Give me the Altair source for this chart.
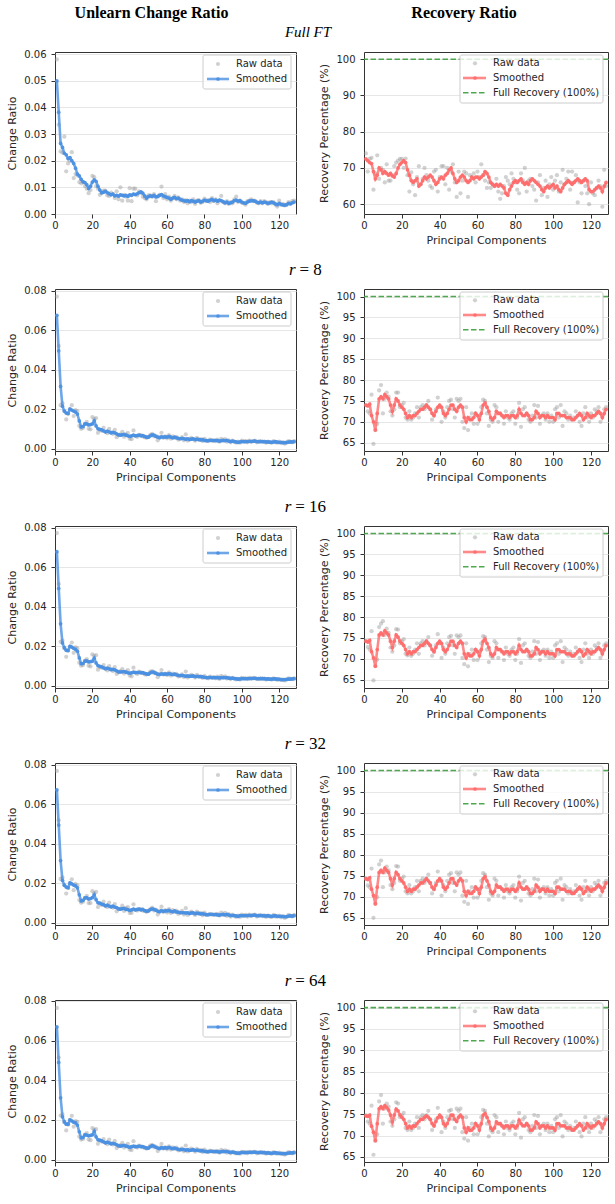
import altair as alt
import pandas as pd

# Principal component index (1..128)
PC = list(range(1, 129))

# ---------------- Full fine-tuning ----------------
FULL_CHANGE_RAW = [
    0.0580, 0.0335, 0.0235, 0.0230, 0.0290, 0.0160, 0.0190, 0.0200, 0.0232, 0.0135,
    0.0150, 0.0145, 0.0120, 0.0115, 0.0120, 0.0105, 0.0095, 0.0078, 0.0090, 0.0143,
    0.0138, 0.0105, 0.0095, 0.0072, 0.0078, 0.0088, 0.0088, 0.0070, 0.0068, 0.0080,
    0.0075, 0.0060, 0.0085, 0.0055, 0.0100, 0.0050, 0.0072, 0.0065, 0.0050, 0.0097,
    0.0048, 0.0095, 0.0095, 0.0070, 0.0085, 0.0080, 0.0065, 0.0060, 0.0055, 0.0070,
    0.0070, 0.0065, 0.0075, 0.0048, 0.0065, 0.0072, 0.0103, 0.0060, 0.0075, 0.0055,
    0.0065, 0.0050, 0.0058, 0.0068, 0.0055, 0.0062, 0.0050, 0.0055, 0.0045, 0.0052,
    0.0040, 0.0050, 0.0045, 0.0055, 0.0038, 0.0050, 0.0052, 0.0042, 0.0045, 0.0058,
    0.0048, 0.0052, 0.0045, 0.0060, 0.0048, 0.0055, 0.0040, 0.0050, 0.0068, 0.0045,
    0.0040, 0.0048, 0.0038, 0.0045, 0.0040, 0.0055, 0.0065, 0.0045, 0.0050, 0.0042,
    0.0040, 0.0035, 0.0048, 0.0050, 0.0055, 0.0048, 0.0050, 0.0042, 0.0040, 0.0048,
    0.0040, 0.0048, 0.0045, 0.0038, 0.0045, 0.0040, 0.0045, 0.0035, 0.0028, 0.0050,
    0.0035, 0.0038, 0.0032, 0.0035, 0.0045, 0.0040, 0.0048, 0.0050,
]
FULL_CHANGE_SMOOTH = [
    0.0500, 0.0382, 0.0265, 0.0250, 0.0228, 0.0222, 0.0208, 0.0212, 0.0200, 0.0190,
    0.0172, 0.0150, 0.0143, 0.0130, 0.0121, 0.0118, 0.0110, 0.0096, 0.0104, 0.0120,
    0.0128, 0.0122, 0.0104, 0.0090, 0.0080, 0.0082, 0.0085, 0.0080, 0.0076, 0.0072,
    0.0075, 0.0068, 0.0070, 0.0067, 0.0072, 0.0070, 0.0068, 0.0070, 0.0066, 0.0072,
    0.0070, 0.0075, 0.0073, 0.0076, 0.0080, 0.0083, 0.0078, 0.0068, 0.0060, 0.0065,
    0.0068, 0.0066, 0.0070, 0.0064, 0.0066, 0.0070, 0.0073, 0.0068, 0.0065, 0.0062,
    0.0060, 0.0055, 0.0060, 0.0062, 0.0058, 0.0060, 0.0055, 0.0052, 0.0050, 0.0048,
    0.0050, 0.0046, 0.0050, 0.0048, 0.0045, 0.0048, 0.0050, 0.0045, 0.0048, 0.0052,
    0.0050, 0.0048, 0.0052, 0.0055, 0.0050, 0.0052, 0.0048, 0.0052, 0.0050, 0.0046,
    0.0042, 0.0045, 0.0040, 0.0042, 0.0045, 0.0050, 0.0052, 0.0048, 0.0050, 0.0045,
    0.0042, 0.0040, 0.0045, 0.0048, 0.0050, 0.0050, 0.0048, 0.0045, 0.0042, 0.0045,
    0.0042, 0.0045, 0.0043, 0.0040, 0.0042, 0.0045, 0.0042, 0.0038, 0.0035, 0.0040,
    0.0036, 0.0034, 0.0033, 0.0035, 0.0040, 0.0038, 0.0042, 0.0045,
]
FULL_RECOV_RAW = [
    74.0, 69.0, 72.5, 72.8, 64.0, 68.5, 73.5, 67.0, 70.0, 69.5,
    66.0, 71.0, 66.5, 66.5, 68.0, 70.5, 71.5, 72.0, 72.5, 72.5,
    70.0, 72.6, 68.0, 63.5, 68.8, 65.5, 62.5, 67.5, 70.5, 65.5,
    67.0, 70.0, 68.0, 66.5, 65.0, 64.5, 69.0, 69.5, 63.5, 67.5,
    70.5, 70.5, 65.5, 70.0, 64.0, 69.0, 71.0, 66.0, 62.0, 69.0,
    63.0, 66.5, 69.0, 68.5, 62.0, 68.0, 67.5, 68.5, 66.0, 69.0,
    67.5, 71.0, 68.0, 66.5, 64.5, 66.0, 64.5, 65.5, 65.0, 67.0,
    63.5, 61.5, 63.0, 65.0, 67.5, 66.5, 65.5, 68.5, 67.0, 66.0,
    64.0, 63.0, 68.5, 66.5, 70.0, 63.5, 66.5, 67.0, 65.0, 64.0,
    61.0, 66.0, 68.0, 62.5, 64.5, 66.5, 62.0, 65.5, 67.5, 64.0,
    66.5, 68.0, 63.5, 66.0, 69.5, 65.5, 67.0, 69.0, 64.0, 69.0,
    66.0, 68.0, 60.5, 66.0, 63.0, 66.5, 65.0, 63.0, 60.0, 66.0,
    63.0, 62.5, 64.5, 66.5, 65.0, 59.3, 69.5, 65.0,
]
FULL_RECOV_SMOOTH = [
    72.5, 72.0, 71.5, 71.2, 69.0, 67.0, 68.0, 70.0, 69.5, 68.5,
    69.0, 68.5, 68.0, 68.5, 67.8, 67.5, 68.5, 70.0, 71.0, 71.5,
    72.0, 71.5, 69.5, 68.0, 66.5, 66.0, 66.5, 67.0, 65.0, 65.5,
    66.5, 67.5, 67.0, 67.5, 68.0, 67.5, 66.5, 65.5, 66.0, 67.0,
    67.5, 67.0, 68.0, 68.5, 69.5, 70.0, 68.5, 67.0, 66.0, 66.5,
    67.5, 68.0, 67.5, 66.5, 66.0, 66.5, 67.5, 67.0, 67.5, 67.5,
    67.0, 67.5, 68.0, 69.0, 68.5, 67.5, 66.0, 65.5, 65.0, 65.5,
    65.0, 65.5, 65.0, 64.5, 63.0, 62.5, 64.0, 65.0, 66.0, 66.5,
    66.0, 66.5, 67.0, 66.0, 65.5, 66.0, 65.5, 66.5, 67.0, 66.5,
    66.0, 65.5, 65.0, 64.0, 63.5, 64.5, 65.0, 64.5, 65.0, 65.5,
    64.5, 65.0, 64.0, 63.5, 64.5, 65.5, 66.0, 66.5, 66.0, 65.5,
    66.0, 66.5, 67.0, 66.5, 66.0, 66.5, 67.0, 66.5, 64.0, 63.5,
    63.5, 64.0, 64.5, 65.0, 64.5, 63.5, 65.0, 66.0,
]

# ---------------- LoRA, r = 8 ----------------
R8_CHANGE_RAW = [
    0.0770, 0.0520, 0.0220, 0.0230, 0.0190, 0.0148, 0.0175, 0.0200, 0.0220, 0.0165,
    0.0195, 0.0190, 0.0115, 0.0100, 0.0105, 0.0125, 0.0135, 0.0100, 0.0098, 0.0160,
    0.0150, 0.0155, 0.0080, 0.0095, 0.0090, 0.0105, 0.0085, 0.0078, 0.0100, 0.0082,
    0.0075, 0.0095, 0.0058, 0.0068, 0.0072, 0.0085, 0.0060, 0.0072, 0.0080, 0.0050,
    0.0048, 0.0092, 0.0065, 0.0060, 0.0070, 0.0068, 0.0062, 0.0058, 0.0055, 0.0060,
    0.0070, 0.0075, 0.0062, 0.0065, 0.0042, 0.0060, 0.0080, 0.0055, 0.0062, 0.0052,
    0.0068, 0.0050, 0.0062, 0.0055, 0.0060, 0.0045, 0.0050, 0.0058, 0.0042, 0.0072,
    0.0040, 0.0050, 0.0055, 0.0048, 0.0040, 0.0055, 0.0045, 0.0048, 0.0038, 0.0050,
    0.0040, 0.0038, 0.0045, 0.0040, 0.0042, 0.0038, 0.0045, 0.0035, 0.0050, 0.0040,
    0.0048, 0.0035, 0.0042, 0.0032, 0.0040, 0.0035, 0.0030, 0.0035, 0.0030, 0.0040,
    0.0035, 0.0038, 0.0032, 0.0040, 0.0036, 0.0038, 0.0040, 0.0032, 0.0035, 0.0038,
    0.0034, 0.0036, 0.0030, 0.0035, 0.0032, 0.0030, 0.0038, 0.0032, 0.0030, 0.0035,
    0.0028, 0.0032, 0.0025, 0.0030, 0.0038, 0.0035, 0.0032, 0.0038,
]
R8_CHANGE_SMOOTH = [
    0.0675, 0.0495, 0.0315, 0.0215, 0.0190, 0.0180, 0.0178, 0.0200, 0.0195, 0.0190,
    0.0185, 0.0175, 0.0140, 0.0110, 0.0112, 0.0125, 0.0125, 0.0120, 0.0122, 0.0125,
    0.0140, 0.0115, 0.0100, 0.0098, 0.0095, 0.0090, 0.0085, 0.0088, 0.0085, 0.0080,
    0.0082, 0.0080, 0.0075, 0.0070, 0.0068, 0.0070, 0.0072, 0.0068, 0.0065, 0.0062,
    0.0065, 0.0068, 0.0065, 0.0066, 0.0068, 0.0065, 0.0066, 0.0062, 0.0058, 0.0058,
    0.0065, 0.0070, 0.0068, 0.0062, 0.0058, 0.0055, 0.0060, 0.0058, 0.0060, 0.0058,
    0.0062, 0.0058, 0.0055, 0.0058, 0.0055, 0.0052, 0.0050, 0.0052, 0.0050, 0.0048,
    0.0050, 0.0046, 0.0048, 0.0050, 0.0046, 0.0048, 0.0046, 0.0044, 0.0045, 0.0042,
    0.0040, 0.0040, 0.0042, 0.0042, 0.0040, 0.0042, 0.0040, 0.0038, 0.0040, 0.0042,
    0.0040, 0.0042, 0.0038, 0.0036, 0.0038, 0.0036, 0.0034, 0.0032, 0.0034, 0.0036,
    0.0036, 0.0035, 0.0036, 0.0037, 0.0036, 0.0037, 0.0038, 0.0036, 0.0035, 0.0036,
    0.0036, 0.0035, 0.0034, 0.0034, 0.0033, 0.0032, 0.0034, 0.0035, 0.0033, 0.0032,
    0.0032, 0.0030, 0.0030, 0.0032, 0.0033, 0.0034, 0.0034, 0.0035,
]
R8_RECOV_RAW = [
    74.0, 72.5, 72.0, 76.5, 64.7, 68.0, 69.5, 77.5, 78.8, 72.0,
    75.5, 77.0, 76.0, 72.5, 71.5, 73.0, 77.0, 77.0, 73.5, 74.0,
    74.5, 71.0, 70.5, 72.5, 70.5, 71.0, 72.0, 73.5, 71.0, 73.5,
    74.0, 73.0, 74.0, 75.0, 73.0, 70.5, 71.5, 73.0, 75.8, 73.5,
    70.0, 72.5, 71.0, 73.5, 75.0, 75.3, 73.0, 71.0, 75.5, 75.0,
    75.5, 70.0, 68.5, 73.5, 68.0, 71.0, 72.0, 69.5, 72.0, 69.5,
    71.5, 73.5, 75.3, 75.0, 72.0, 69.0, 70.5, 70.0, 74.0, 73.5,
    70.0, 72.0, 71.5, 69.5, 72.5, 71.0, 70.5, 72.0, 72.5, 69.5,
    71.0, 74.5, 68.8, 73.0, 73.5, 72.0, 70.5, 70.0, 71.5, 74.0,
    71.0, 73.8, 69.5, 71.5, 72.0, 70.5, 72.0, 70.0, 71.5, 70.0,
    73.0, 73.5, 71.0, 74.0, 69.0, 72.5, 72.0, 70.5, 71.5, 70.5,
    71.0, 72.5, 71.5, 70.0, 69.0, 72.0, 73.5, 71.0, 70.0, 72.0,
    71.0, 73.0, 72.5, 73.5, 70.0, 71.5, 73.0, 73.5,
]
R8_RECOV_SMOOTH = [
    74.0, 73.8, 74.2, 71.5, 70.0, 68.0, 72.0, 75.5, 76.0, 75.5,
    76.5, 76.0, 75.5, 74.0, 72.5, 74.0, 75.5, 75.0, 74.0, 73.5,
    73.0, 72.0, 71.0, 71.5, 71.0, 71.5, 71.5, 72.0, 72.5, 73.0,
    73.0, 73.5, 74.0, 73.5, 73.0, 72.0, 71.5, 72.5, 73.5, 74.0,
    73.5, 72.0, 71.5, 72.0, 73.0, 74.0, 74.0, 73.0, 72.5, 73.5,
    74.0, 73.5, 71.0, 70.0, 71.0, 70.5, 70.5, 71.0, 72.0, 71.5,
    70.5, 72.0, 74.0, 74.5, 73.5, 72.5, 71.0, 70.5, 71.0, 72.5,
    72.0, 72.0, 71.5, 71.0, 71.5, 71.5, 71.0, 71.5, 71.5, 71.0,
    71.5, 73.0, 72.0, 71.5, 71.5, 72.0, 71.5, 70.5, 70.5, 71.0,
    72.5, 72.0, 71.0, 71.5, 71.5, 71.0, 71.5, 71.0, 71.0, 71.0,
    70.5, 72.0, 72.0, 71.5, 71.5, 71.5, 71.0, 71.0, 71.0, 70.5,
    70.5, 71.0, 71.5, 72.0, 71.5, 70.5, 71.0, 72.0, 71.5, 71.0,
    71.5, 71.5, 72.0, 72.5, 72.0, 71.0, 72.0, 73.0,
]

# ---------------- LoRA, r = 16 ----------------
R16_CHANGE_RAW = [
    0.0772, 0.0515, 0.0222, 0.0228, 0.0192, 0.0146, 0.0176, 0.0198, 0.0218, 0.0166,
    0.0194, 0.0188, 0.0116, 0.0101, 0.0104, 0.0126, 0.0134, 0.0101, 0.0097, 0.0158,
    0.0151, 0.0154, 0.0081, 0.0094, 0.0091, 0.0104, 0.0086, 0.0077, 0.0099, 0.0083,
    0.0074, 0.0094, 0.0059, 0.0067, 0.0073, 0.0084, 0.0061, 0.0071, 0.0079, 0.0051,
    0.0047, 0.0091, 0.0066, 0.0059, 0.0071, 0.0067, 0.0063, 0.0057, 0.0056, 0.0059,
    0.0071, 0.0074, 0.0063, 0.0064, 0.0043, 0.0059, 0.0079, 0.0056, 0.0061, 0.0053,
    0.0067, 0.0051, 0.0061, 0.0056, 0.0059, 0.0046, 0.0049, 0.0057, 0.0043, 0.0071,
    0.0041, 0.0049, 0.0054, 0.0049, 0.0041, 0.0054, 0.0046, 0.0047, 0.0039, 0.0049,
    0.0041, 0.0037, 0.0046, 0.0039, 0.0043, 0.0037, 0.0046, 0.0034, 0.0049, 0.0041,
    0.0047, 0.0036, 0.0041, 0.0033, 0.0039, 0.0036, 0.0031, 0.0034, 0.0031, 0.0039,
    0.0036, 0.0037, 0.0033, 0.0039, 0.0037, 0.0037, 0.0039, 0.0033, 0.0034, 0.0037,
    0.0035, 0.0035, 0.0031, 0.0034, 0.0033, 0.0031, 0.0037, 0.0033, 0.0029, 0.0034,
    0.0029, 0.0031, 0.0026, 0.0031, 0.0037, 0.0034, 0.0033, 0.0037,
]
R16_CHANGE_SMOOTH = [
    0.0678, 0.0492, 0.0313, 0.0216, 0.0191, 0.0179, 0.0178, 0.0199, 0.0195, 0.0189,
    0.0184, 0.0174, 0.0140, 0.0111, 0.0112, 0.0124, 0.0125, 0.0120, 0.0121, 0.0124,
    0.0139, 0.0115, 0.0101, 0.0098, 0.0095, 0.0090, 0.0086, 0.0088, 0.0085, 0.0081,
    0.0082, 0.0080, 0.0075, 0.0070, 0.0069, 0.0070, 0.0071, 0.0068, 0.0065, 0.0063,
    0.0065, 0.0068, 0.0066, 0.0066, 0.0067, 0.0065, 0.0066, 0.0062, 0.0059, 0.0058,
    0.0065, 0.0069, 0.0068, 0.0062, 0.0058, 0.0056, 0.0060, 0.0058, 0.0059, 0.0058,
    0.0061, 0.0058, 0.0056, 0.0058, 0.0055, 0.0052, 0.0051, 0.0052, 0.0050, 0.0048,
    0.0049, 0.0047, 0.0048, 0.0049, 0.0046, 0.0047, 0.0046, 0.0045, 0.0044, 0.0042,
    0.0041, 0.0040, 0.0042, 0.0041, 0.0040, 0.0041, 0.0040, 0.0039, 0.0040, 0.0041,
    0.0040, 0.0041, 0.0038, 0.0037, 0.0038, 0.0036, 0.0035, 0.0033, 0.0034, 0.0035,
    0.0036, 0.0035, 0.0036, 0.0036, 0.0036, 0.0037, 0.0037, 0.0036, 0.0035, 0.0035,
    0.0035, 0.0035, 0.0034, 0.0034, 0.0033, 0.0033, 0.0034, 0.0034, 0.0033, 0.0032,
    0.0031, 0.0030, 0.0031, 0.0032, 0.0033, 0.0033, 0.0034, 0.0035,
]
R16_RECOV_RAW = [
    74.2, 72.8, 72.2, 76.6, 64.8, 68.3, 69.8, 77.6, 78.4, 79.0,
    75.7, 77.2, 76.2, 72.7, 71.7, 73.2, 77.1, 77.0, 73.7, 74.2,
    74.7, 71.2, 70.8, 72.7, 70.7, 71.2, 72.2, 73.7, 71.2, 73.7,
    74.2, 73.2, 74.2, 75.2, 73.2, 70.7, 71.7, 73.2, 75.9, 73.7,
    70.2, 72.7, 71.2, 73.7, 75.2, 75.5, 73.2, 71.2, 75.6, 75.2,
    75.6, 70.2, 68.7, 73.7, 68.2, 71.2, 72.2, 69.7, 72.2, 69.7,
    71.7, 73.7, 75.4, 75.2, 72.2, 69.2, 70.7, 70.2, 74.2, 73.7,
    70.2, 72.2, 71.7, 69.7, 72.7, 71.2, 70.7, 72.2, 72.7, 69.7,
    71.2, 74.7, 69.0, 73.2, 73.7, 72.2, 70.7, 70.2, 71.7, 74.2,
    71.2, 74.0, 69.7, 71.7, 72.2, 70.7, 72.2, 70.2, 71.7, 70.2,
    73.2, 73.7, 71.2, 74.2, 69.2, 72.7, 72.2, 70.7, 71.7, 70.7,
    71.2, 72.7, 71.7, 70.2, 69.2, 72.2, 73.7, 71.2, 70.2, 72.2,
    71.2, 73.2, 72.7, 73.7, 70.2, 71.7, 73.2, 73.7,
]
R16_RECOV_SMOOTH = [
    74.2, 74.0, 74.4, 71.7, 70.2, 68.2, 72.2, 75.7, 76.2, 75.7,
    76.7, 76.2, 75.7, 74.2, 72.7, 74.2, 75.7, 75.2, 74.2, 73.7,
    73.2, 72.2, 71.2, 71.7, 71.2, 71.7, 71.7, 72.2, 72.7, 73.2,
    73.2, 73.7, 74.2, 73.7, 73.2, 72.2, 71.7, 72.7, 73.7, 74.2,
    73.7, 72.2, 71.7, 72.2, 73.2, 74.2, 74.2, 73.2, 72.7, 73.7,
    74.2, 73.7, 71.2, 70.2, 71.2, 70.7, 70.7, 71.2, 72.2, 71.7,
    70.7, 72.2, 74.2, 74.7, 73.7, 72.7, 71.2, 70.7, 71.2, 72.7,
    72.2, 72.2, 71.7, 71.2, 71.7, 71.7, 71.2, 71.7, 71.7, 71.2,
    71.7, 73.2, 72.2, 71.7, 71.7, 72.2, 71.7, 70.7, 70.7, 71.2,
    72.7, 72.2, 71.2, 71.7, 71.7, 71.2, 71.7, 71.2, 71.2, 71.2,
    70.7, 72.2, 72.2, 71.7, 71.7, 71.7, 71.2, 71.2, 71.2, 70.7,
    70.7, 71.2, 71.7, 72.2, 71.7, 70.7, 71.2, 72.2, 71.7, 71.2,
    71.7, 71.7, 72.2, 72.7, 72.2, 71.2, 72.2, 73.2,
]

# ---------------- LoRA, r = 32 ----------------
R32_CHANGE_RAW = [
    0.0768, 0.0518, 0.0221, 0.0229, 0.0191, 0.0147, 0.0174, 0.0199, 0.0219, 0.0164,
    0.0196, 0.0189, 0.0114, 0.0101, 0.0106, 0.0124, 0.0136, 0.0099, 0.0099, 0.0159,
    0.0149, 0.0156, 0.0079, 0.0096, 0.0089, 0.0106, 0.0084, 0.0079, 0.0101, 0.0081,
    0.0076, 0.0094, 0.0057, 0.0069, 0.0071, 0.0086, 0.0059, 0.0073, 0.0079, 0.0049,
    0.0049, 0.0093, 0.0064, 0.0061, 0.0069, 0.0069, 0.0061, 0.0059, 0.0054, 0.0061,
    0.0069, 0.0076, 0.0061, 0.0066, 0.0041, 0.0061, 0.0081, 0.0054, 0.0063, 0.0051,
    0.0069, 0.0049, 0.0063, 0.0054, 0.0061, 0.0044, 0.0051, 0.0059, 0.0041, 0.0073,
    0.0039, 0.0051, 0.0056, 0.0047, 0.0039, 0.0056, 0.0044, 0.0049, 0.0037, 0.0051,
    0.0039, 0.0039, 0.0044, 0.0041, 0.0041, 0.0039, 0.0044, 0.0036, 0.0051, 0.0039,
    0.0049, 0.0034, 0.0043, 0.0031, 0.0041, 0.0034, 0.0029, 0.0036, 0.0029, 0.0041,
    0.0034, 0.0039, 0.0031, 0.0041, 0.0035, 0.0039, 0.0041, 0.0031, 0.0036, 0.0039,
    0.0033, 0.0037, 0.0029, 0.0036, 0.0031, 0.0029, 0.0039, 0.0031, 0.0031, 0.0036,
    0.0027, 0.0033, 0.0024, 0.0029, 0.0039, 0.0036, 0.0031, 0.0039,
]
R32_CHANGE_SMOOTH = [
    0.0672, 0.0494, 0.0314, 0.0214, 0.0189, 0.0180, 0.0177, 0.0201, 0.0196, 0.0190,
    0.0186, 0.0176, 0.0141, 0.0110, 0.0113, 0.0125, 0.0126, 0.0119, 0.0122, 0.0126,
    0.0141, 0.0116, 0.0100, 0.0099, 0.0094, 0.0091, 0.0085, 0.0089, 0.0084, 0.0080,
    0.0083, 0.0079, 0.0076, 0.0070, 0.0068, 0.0071, 0.0072, 0.0067, 0.0066, 0.0062,
    0.0064, 0.0069, 0.0065, 0.0067, 0.0068, 0.0064, 0.0067, 0.0061, 0.0058, 0.0059,
    0.0066, 0.0070, 0.0067, 0.0063, 0.0057, 0.0055, 0.0061, 0.0057, 0.0060, 0.0059,
    0.0062, 0.0057, 0.0055, 0.0059, 0.0054, 0.0053, 0.0050, 0.0051, 0.0050, 0.0049,
    0.0050, 0.0046, 0.0049, 0.0050, 0.0045, 0.0048, 0.0047, 0.0044, 0.0045, 0.0043,
    0.0040, 0.0041, 0.0042, 0.0042, 0.0041, 0.0042, 0.0039, 0.0038, 0.0041, 0.0042,
    0.0039, 0.0042, 0.0039, 0.0036, 0.0037, 0.0036, 0.0034, 0.0032, 0.0035, 0.0036,
    0.0035, 0.0036, 0.0036, 0.0037, 0.0035, 0.0037, 0.0038, 0.0035, 0.0035, 0.0036,
    0.0036, 0.0034, 0.0034, 0.0035, 0.0033, 0.0032, 0.0034, 0.0035, 0.0032, 0.0032,
    0.0032, 0.0031, 0.0030, 0.0031, 0.0033, 0.0034, 0.0033, 0.0035,
]
R32_RECOV_RAW = [
    74.3, 72.7, 72.3, 76.7, 65.0, 68.4, 69.9, 77.7, 78.6, 72.3,
    75.8, 77.2, 76.3, 72.8, 71.8, 73.3, 77.3, 77.2, 73.8, 74.3,
    74.8, 71.3, 70.8, 72.8, 70.8, 71.3, 72.3, 73.8, 71.3, 73.8,
    74.3, 73.3, 74.3, 75.3, 73.3, 70.8, 71.8, 73.3, 76.0, 73.8,
    70.3, 72.8, 71.3, 73.8, 75.3, 75.6, 73.3, 71.3, 75.8, 75.3,
    75.8, 70.3, 68.8, 73.8, 68.3, 71.3, 72.3, 69.8, 72.3, 69.8,
    71.8, 73.8, 75.6, 75.3, 72.3, 69.3, 70.8, 70.3, 74.3, 73.8,
    70.3, 72.3, 71.8, 69.8, 72.8, 71.3, 70.8, 72.3, 72.8, 69.8,
    71.3, 74.8, 69.1, 73.3, 73.8, 72.3, 70.8, 70.3, 71.8, 74.3,
    71.3, 74.1, 69.8, 71.8, 72.3, 70.8, 72.3, 70.3, 71.8, 70.3,
    73.3, 73.8, 71.3, 74.3, 69.3, 72.8, 72.3, 70.8, 71.8, 70.8,
    71.3, 72.8, 71.8, 70.3, 69.3, 72.3, 73.8, 71.3, 70.3, 72.3,
    71.3, 73.3, 72.8, 73.8, 70.3, 71.8, 73.3, 73.8,
]
R32_RECOV_SMOOTH = [
    74.3, 74.1, 74.5, 71.8, 70.3, 68.3, 72.3, 75.8, 76.3, 75.8,
    76.8, 76.3, 75.8, 74.3, 72.8, 74.3, 75.8, 75.3, 74.3, 73.8,
    73.3, 72.3, 71.3, 71.8, 71.3, 71.8, 71.8, 72.3, 72.8, 73.3,
    73.3, 73.8, 74.3, 73.8, 73.3, 72.3, 71.8, 72.8, 73.8, 74.3,
    73.8, 72.3, 71.8, 72.3, 73.3, 74.3, 74.3, 73.3, 72.8, 73.8,
    74.3, 73.8, 71.3, 70.3, 71.3, 70.8, 70.8, 71.3, 72.3, 71.8,
    70.8, 72.3, 74.3, 74.8, 73.8, 72.8, 71.3, 70.8, 71.3, 72.8,
    72.3, 72.3, 71.8, 71.3, 71.8, 71.8, 71.3, 71.8, 71.8, 71.3,
    71.8, 73.3, 72.3, 71.8, 71.8, 72.3, 71.8, 70.8, 70.8, 71.3,
    72.8, 72.3, 71.3, 71.8, 71.8, 71.3, 71.8, 71.3, 71.3, 71.3,
    70.8, 72.3, 72.3, 71.8, 71.8, 71.8, 71.3, 71.3, 71.3, 70.8,
    70.8, 71.3, 71.8, 72.3, 71.8, 70.8, 71.3, 72.3, 71.8, 71.3,
    71.8, 71.8, 72.3, 72.8, 72.3, 71.3, 72.3, 73.3,
]

# ---------------- LoRA, r = 64 ----------------
R64_CHANGE_RAW = [
    0.0765, 0.0515, 0.0222, 0.0228, 0.0190, 0.0147, 0.0176, 0.0201, 0.0221, 0.0166,
    0.0194, 0.0191, 0.0116, 0.0101, 0.0104, 0.0126, 0.0134, 0.0101, 0.0098, 0.0159,
    0.0151, 0.0154, 0.0080, 0.0096, 0.0091, 0.0104, 0.0085, 0.0078, 0.0101, 0.0082,
    0.0076, 0.0094, 0.0058, 0.0068, 0.0073, 0.0084, 0.0061, 0.0071, 0.0080, 0.0051,
    0.0048, 0.0093, 0.0065, 0.0061, 0.0070, 0.0067, 0.0062, 0.0059, 0.0055, 0.0060,
    0.0071, 0.0074, 0.0062, 0.0066, 0.0043, 0.0060, 0.0079, 0.0056, 0.0062, 0.0052,
    0.0067, 0.0051, 0.0062, 0.0055, 0.0061, 0.0046, 0.0050, 0.0057, 0.0042, 0.0071,
    0.0041, 0.0050, 0.0055, 0.0049, 0.0040, 0.0054, 0.0045, 0.0049, 0.0038, 0.0050,
    0.0041, 0.0038, 0.0045, 0.0041, 0.0042, 0.0038, 0.0044, 0.0035, 0.0049, 0.0040,
    0.0047, 0.0035, 0.0042, 0.0032, 0.0039, 0.0035, 0.0031, 0.0035, 0.0030, 0.0039,
    0.0035, 0.0038, 0.0032, 0.0039, 0.0036, 0.0038, 0.0039, 0.0032, 0.0035, 0.0038,
    0.0034, 0.0036, 0.0030, 0.0035, 0.0032, 0.0030, 0.0038, 0.0032, 0.0030, 0.0035,
    0.0028, 0.0032, 0.0025, 0.0030, 0.0038, 0.0035, 0.0032, 0.0038,
]
R64_CHANGE_SMOOTH = [
    0.0670, 0.0490, 0.0312, 0.0216, 0.0190, 0.0179, 0.0179, 0.0200, 0.0195, 0.0189,
    0.0185, 0.0174, 0.0140, 0.0110, 0.0112, 0.0125, 0.0124, 0.0120, 0.0122, 0.0125,
    0.0142, 0.0115, 0.0100, 0.0098, 0.0095, 0.0090, 0.0085, 0.0088, 0.0085, 0.0080,
    0.0082, 0.0080, 0.0075, 0.0070, 0.0068, 0.0070, 0.0072, 0.0068, 0.0065, 0.0062,
    0.0065, 0.0068, 0.0065, 0.0066, 0.0068, 0.0065, 0.0066, 0.0062, 0.0058, 0.0058,
    0.0065, 0.0070, 0.0068, 0.0062, 0.0058, 0.0055, 0.0060, 0.0058, 0.0060, 0.0058,
    0.0062, 0.0058, 0.0055, 0.0058, 0.0055, 0.0052, 0.0050, 0.0052, 0.0050, 0.0048,
    0.0050, 0.0046, 0.0048, 0.0050, 0.0046, 0.0048, 0.0046, 0.0044, 0.0045, 0.0042,
    0.0040, 0.0040, 0.0042, 0.0042, 0.0040, 0.0042, 0.0040, 0.0038, 0.0040, 0.0042,
    0.0040, 0.0042, 0.0038, 0.0036, 0.0038, 0.0036, 0.0034, 0.0032, 0.0034, 0.0036,
    0.0036, 0.0035, 0.0036, 0.0037, 0.0036, 0.0037, 0.0038, 0.0036, 0.0035, 0.0036,
    0.0036, 0.0035, 0.0034, 0.0034, 0.0033, 0.0032, 0.0034, 0.0035, 0.0033, 0.0032,
    0.0032, 0.0030, 0.0030, 0.0032, 0.0033, 0.0034, 0.0034, 0.0035,
]
R64_RECOV_RAW = [
    74.8, 73.3, 72.8, 77.0, 65.5, 68.8, 70.3, 78.0, 79.5, 72.8,
    76.3, 77.5, 76.8, 73.3, 72.3, 73.8, 77.8, 77.5, 74.3, 74.8,
    75.3, 71.8, 71.3, 73.3, 71.3, 71.8, 72.8, 74.3, 71.8, 74.3,
    74.8, 73.8, 74.8, 75.8, 73.8, 71.3, 72.3, 73.8, 76.5, 74.3,
    70.8, 73.3, 71.8, 74.3, 75.8, 76.0, 73.8, 71.8, 76.3, 75.8,
    76.3, 70.8, 69.3, 74.3, 68.8, 71.8, 72.8, 70.3, 72.8, 70.3,
    72.3, 74.3, 76.0, 75.8, 72.8, 69.8, 71.3, 70.8, 74.8, 74.3,
    70.8, 72.8, 72.3, 70.3, 73.3, 71.8, 71.3, 72.8, 73.3, 70.3,
    71.8, 75.3, 69.5, 73.8, 74.3, 72.8, 71.3, 70.8, 72.3, 74.8,
    71.8, 74.6, 70.3, 72.3, 72.8, 71.3, 72.8, 70.8, 72.3, 70.8,
    73.8, 74.3, 71.8, 74.8, 69.8, 73.3, 72.8, 71.3, 72.3, 71.3,
    71.8, 73.3, 72.3, 70.8, 69.8, 72.8, 74.3, 71.8, 70.8, 72.8,
    71.8, 73.8, 73.3, 74.3, 70.8, 72.3, 73.8, 74.3,
]
R64_RECOV_SMOOTH = [
    74.6, 74.5, 74.8, 72.2, 70.8, 68.8, 72.8, 76.3, 76.8, 76.3,
    77.0, 76.6, 76.0, 74.8, 73.2, 74.8, 76.2, 75.8, 74.8, 74.3,
    73.8, 72.8, 71.8, 72.2, 71.8, 72.3, 72.2, 72.8, 73.3, 73.8,
    73.8, 74.3, 74.6, 74.3, 73.8, 72.8, 72.3, 73.3, 74.2, 74.8,
    74.3, 72.8, 72.3, 72.8, 73.8, 74.8, 74.8, 73.8, 73.3, 74.3,
    74.8, 74.3, 71.8, 70.8, 71.8, 71.2, 71.3, 71.8, 72.8, 72.3,
    71.3, 72.8, 74.8, 75.2, 74.3, 73.3, 71.8, 71.3, 71.8, 73.2,
    72.8, 72.8, 72.3, 71.8, 72.3, 72.3, 71.8, 72.3, 72.3, 71.8,
    72.3, 73.6, 72.8, 72.3, 72.3, 72.8, 72.3, 71.3, 71.3, 71.8,
    73.2, 72.8, 71.8, 72.3, 72.3, 71.8, 72.3, 71.8, 71.8, 71.8,
    71.3, 72.8, 72.8, 72.3, 72.3, 72.3, 71.8, 71.8, 71.8, 71.3,
    71.3, 71.8, 72.3, 72.8, 72.3, 71.3, 71.8, 72.8, 72.3, 71.8,
    72.3, 72.3, 72.8, 73.2, 72.8, 71.8, 72.8, 73.8,
]

X_TICKS = [0, 20, 40, 60, 80, 100, 120]
CHANGE_TICKS_FULL = [0.0, 0.01, 0.02, 0.03, 0.04, 0.05, 0.06]
CHANGE_TICKS_LORA = [0.0, 0.02, 0.04, 0.06, 0.08]
RECOV_TICKS_FULL = [60, 70, 80, 90, 100]
RECOV_TICKS_LORA = [65, 70, 75, 80, 85, 90, 95, 100]
FULL_RECOVERY = [100]

# (row label, rank text, change raw/smooth, change domain, change ticks,
#  recovery raw/smooth, recovery domain, recovery ticks)
ROWS = [
    ("Full FT", None, FULL_CHANGE_RAW, FULL_CHANGE_SMOOTH, [0.0, 0.0608], CHANGE_TICKS_FULL,
     FULL_RECOV_RAW, FULL_RECOV_SMOOTH, [57.3, 102.0], RECOV_TICKS_FULL),
    (None, "8", R8_CHANGE_RAW, R8_CHANGE_SMOOTH, [-0.0012, 0.0808], CHANGE_TICKS_LORA,
     R8_RECOV_RAW, R8_RECOV_SMOOTH, [63.0, 101.8], RECOV_TICKS_LORA),
    (None, "16", R16_CHANGE_RAW, R16_CHANGE_SMOOTH, [-0.0012, 0.0808], CHANGE_TICKS_LORA,
     R16_RECOV_RAW, R16_RECOV_SMOOTH, [63.0, 101.8], RECOV_TICKS_LORA),
    (None, "32", R32_CHANGE_RAW, R32_CHANGE_SMOOTH, [-0.0012, 0.0808], CHANGE_TICKS_LORA,
     R32_RECOV_RAW, R32_RECOV_SMOOTH, [63.3, 101.8], RECOV_TICKS_LORA),
    (None, "64", R64_CHANGE_RAW, R64_CHANGE_SMOOTH, [-0.0012, 0.0805], CHANGE_TICKS_LORA,
     R64_RECOV_RAW, R64_RECOV_SMOOTH, [63.8, 101.8], RECOV_TICKS_LORA),
]

# ---------------- styling ----------------
LEFT_W, RIGHT_W, PANEL_H = 241, 244, 162
GRAY = "#9a9a9a"
BLUE = "#4a90e2"
RED = "#ff6b6b"
GREEN = "#3c9f3c"
SANS = "DejaVu Sans"
SERIF = "Liberation Serif"
ONE = pd.DataFrame({"k": [0]})


def xenc():
    return alt.X(
        "pc:Q",
        scale=alt.Scale(domain=[0, 129], nice=False, zero=False),
        axis=alt.Axis(values=X_TICKS, format="d", title="Principal Components",
                      grid=False, labelFlush=False),
    )


def yenc(domain, ticks, fmt, title):
    return alt.Y(
        "val:Q",
        scale=alt.Scale(domain=domain, nice=False, zero=False),
        axis=alt.Axis(values=ticks, format=fmt, title=title, grid=True, labelFlush=False),
    )


def series_layers(raw, smooth, color, y):
    raw_df = pd.DataFrame({"pc": PC, "val": raw})
    sm_df = pd.DataFrame({"pc": PC, "val": smooth})
    pts = alt.Chart(raw_df).mark_circle(size=18, color=GRAY, opacity=0.45).encode(x=xenc(), y=y)
    line = alt.Chart(sm_df).mark_line(color=color, strokeWidth=2.6, opacity=0.8).encode(x=xenc(), y=y)
    dots = alt.Chart(sm_df).mark_circle(size=14, color=color, opacity=0.9).encode(x=xenc(), y=y)
    return [pts, line, dots]


def txt(x, y, s, size=10, align="left", baseline="middle", font=SANS, style="normal",
        weight="normal", color="#262626"):
    return alt.Chart(ONE).mark_text(
        align=align, baseline=baseline, font=font, fontSize=size, fontStyle=style,
        fontWeight=weight, color=color,
    ).encode(x=alt.value(x), y=alt.value(y), text=alt.value(s))


def legend_box(x1, x2, y1, y2):
    return alt.Chart(ONE).mark_rect(
        fill="white", fillOpacity=0.8, stroke="#cccccc", strokeWidth=1, cornerRadius=2
    ).encode(x=alt.value(x1), x2=alt.value(x2), y=alt.value(y1), y2=alt.value(y2))


def sample_line(x1, x2, y, color, dash=None, width=2.6, opacity=0.8):
    kw = dict(color=color, strokeWidth=width, opacity=opacity)
    if dash:
        kw["strokeDash"] = dash
    return alt.Chart(ONE).mark_rule(**kw).encode(x=alt.value(x1), x2=alt.value(x2), y=alt.value(y))


def sample_dot(x, y, color, size, opacity):
    return alt.Chart(ONE).mark_circle(size=size, color=color, opacity=opacity).encode(
        x=alt.value(x), y=alt.value(y))


def change_cell(label, rank, raw, smooth, domain, ticks, first):
    y = yenc(domain, ticks, ".2f", "Change Ratio")
    layers = series_layers(raw, smooth, BLUE, y)
    layers += [
        legend_box(148, 236, 3, 37),
        sample_dot(163, 12, GRAY, 18, 0.45),
        sample_line(152, 174, 27, BLUE),
        sample_dot(163, 27, BLUE, 14, 0.9),
        txt(181, 12, "Raw data"),
        txt(181, 27, "Smoothed"),
    ]
    if label is not None:
        layers.append(txt(253, -15, label, size=15, align="center", baseline="alphabetic",
                          font=SERIF, style="italic", color="black"))
    else:
        width = 39 + 8.5 * (len(rank) - 1)
        start = 307 - 54 - width / 2
        layers.append(txt(start + 7, -14.5, "r", size=17, align="right", baseline="alphabetic",
                          font=SERIF, style="italic", color="black"))
        layers.append(txt(start + 11, -14.5, "= " + rank, size=17, baseline="alphabetic",
                          font=SERIF, color="black"))
    if first:
        layers.append(txt(96.5, -34.3, "Unlearn Change Ratio", size=16, align="center",
                          baseline="alphabetic", font=SERIF, weight="bold", color="black"))
        # white corner mark fixing the page origin
        layers.append(alt.Chart(ONE).mark_rule(color="white", strokeWidth=0.5).encode(
            x=alt.value(-54), y=alt.value(-51), y2=alt.value(-50)))
    return alt.layer(*layers).properties(width=LEFT_W, height=PANEL_H)


def recovery_cell(raw, smooth, domain, ticks, first):
    y = yenc(domain, ticks, "d", "Recovery Percentage (%)")
    full_line = alt.Chart(pd.DataFrame({"val": FULL_RECOVERY})).mark_rule(
        color=GREEN, strokeWidth=1.6, strokeDash=[5.5, 2.5], opacity=0.9
    ).encode(y=y)
    layers = series_layers(raw, smooth, RED, y)
    layers += [
        full_line,
        legend_box(96, 239, 3, 51),
        sample_dot(111, 11.3, GRAY, 18, 0.45),
        sample_line(99, 122, 26, RED),
        sample_dot(111, 26, RED, 14, 0.9),
        sample_line(99, 122, 40.7, GREEN, dash=[5.5, 2.5], width=1.6, opacity=0.9),
        txt(129, 11.3, "Raw data"),
        txt(129, 26, "Smoothed"),
        txt(129, 40.7, "Full Recovery (100%)"),
    ]
    if first:
        layers.append(txt(100, -34.3, "Recovery Ratio", size=16, align="center",
                          baseline="alphabetic", font=SERIF, weight="bold", color="black"))
    return alt.layer(*layers).properties(width=RIGHT_W, height=PANEL_H)


cells = []
for i, (label, rank, c_raw, c_sm, c_dom, c_ticks, r_raw, r_sm, r_dom, r_ticks) in enumerate(ROWS):
    cells.append(change_cell(label, rank, c_raw, c_sm, c_dom, c_ticks, i == 0))
    cells.append(recovery_cell(r_raw, r_sm, r_dom, r_ticks, i == 0))

chart = (
    alt.concat(*cells, columns=2, spacing={"row": 75, "column": 68})
    .properties(bounds="flush", padding=0, background="white")
    .configure_view(stroke="#333333", strokeWidth=1)
    .configure_axis(
        domain=False, ticks=True, tickColor="#333333", tickSize=4, tickWidth=1,
        labelFont=SANS, labelFontSize=10, labelColor="#262626",
        titleFont=SANS, titleFontSize=11, titleFontWeight="normal", titleColor="#262626",
        gridColor="#e6e6e6", gridWidth=1,
    )
    .configure_axisX(labelPadding=2, titlePadding=4)
    .configure_axisY(labelPadding=5, titlePadding=6)
)

chart.save("out.html", embed_options={"renderer": "svg", "actions": False})
